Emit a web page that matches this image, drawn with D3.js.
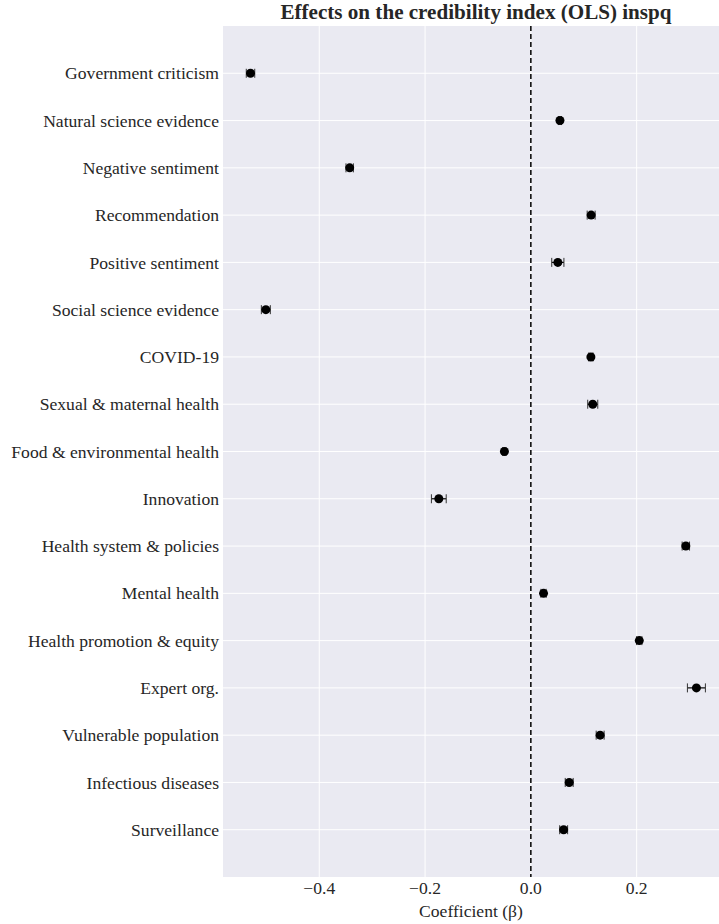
<!DOCTYPE html>
<html>
<head>
<meta charset="utf-8">
<script src="https://cdn.jsdelivr.net/npm/d3@7"></script>
<style>
  html, body { margin: 0; padding: 0; background: #ffffff; }
  svg { display: block; }
  text { font-family: "Liberation Serif", "Times New Roman", serif; fill: #262626; }
</style>
</head>
<body>
<svg id="chart" width="719" height="924"></svg>
<script>
const categories = [
  "Government criticism",
  "Natural science evidence",
  "Negative sentiment",
  "Recommendation",
  "Positive sentiment",
  "Social science evidence",
  "COVID-19",
  "Sexual & maternal health",
  "Food & environmental health",
  "Innovation",
  "Health system & policies",
  "Mental health",
  "Health promotion & equity",
  "Expert org.",
  "Vulnerable population",
  "Infectious diseases",
  "Surveillance"
];
const coefficients = [-0.530, 0.055, -0.3425, 0.114, 0.051, -0.501, 0.1135, 0.117, -0.050, -0.174, 0.293, 0.024, 0.205, 0.313, 0.131, 0.0725, 0.062];
const errors = [0.008, 0.003, 0.007, 0.0075, 0.0115, 0.0085, 0.004, 0.0095, 0.003, 0.014, 0.007, 0.005, 0.005, 0.017, 0.0075, 0.0075, 0.0075];
const xTicks = [-0.4, -0.2, 0.0, 0.2];
const titleText = "Effects on the credibility index (OLS) inspq";
const xLabel = "Coefficient (β)";

const svg = d3.select("#chart");
const margin = {left: 223, right: 0, top: 26, bottom: 47};
const W = 719, H = 924;
const x = d3.scaleLinear().domain([-0.582, 0.3557]).range([margin.left, W - margin.right]);
const y = d3.scaleLinear().domain([-1, categories.length]).range([margin.top, H - margin.bottom]);

// background
svg.append("rect")
  .attr("x", margin.left).attr("y", margin.top)
  .attr("width", W - margin.right - margin.left)
  .attr("height", H - margin.bottom - margin.top)
  .attr("fill", "#EAEAF2");

// grid
const g = svg.append("g");
g.selectAll("line.vgrid").data(xTicks).enter().append("line")
  .attr("class", "vgrid")
  .attr("x1", d => x(d)).attr("x2", d => x(d))
  .attr("y1", margin.top).attr("y2", H - margin.bottom)
  .attr("stroke", "#ffffff").attr("stroke-width", 1);
g.selectAll("line.hgrid").data(categories).enter().append("line")
  .attr("class", "hgrid")
  .attr("x1", margin.left).attr("x2", W - margin.right)
  .attr("y1", (d, i) => y(i)).attr("y2", (d, i) => y(i))
  .attr("stroke", "#ffffff").attr("stroke-width", 1);

// zero line
svg.append("line")
  .attr("x1", x(0)).attr("x2", x(0))
  .attr("y1", margin.top).attr("y2", H - margin.bottom)
  .attr("stroke", "#000").attr("stroke-width", 1.5)
  .attr("stroke-dasharray", "5,3");

// error bars
const eb = svg.append("g");
categories.forEach((c, i) => {
  const v = coefficients[i], e = errors[i], yy = y(i);
  eb.append("line")
    .attr("x1", x(v - e)).attr("x2", x(v + e))
    .attr("y1", yy).attr("y2", yy)
    .attr("stroke", "#000").attr("stroke-width", 1.2);
  [v - e, v + e].forEach(xv => {
    eb.append("line")
      .attr("x1", x(xv)).attr("x2", x(xv))
      .attr("y1", yy - 4.5).attr("y2", yy + 4.5)
      .attr("stroke", "#333").attr("stroke-width", 1);
  });
});

// points
svg.append("g").selectAll("circle").data(coefficients).enter().append("circle")
  .attr("cx", d => x(d)).attr("cy", (d, i) => y(i))
  .attr("r", 4.5).attr("fill", "#000");

// y labels
svg.append("g").selectAll("text").data(categories).enter().append("text")
  .attr("x", margin.left - 4).attr("y", (d, i) => y(i))
  .attr("dy", "0.35em")
  .attr("text-anchor", "end")
  .attr("font-size", "17.6px")
  .text(d => d);

// x tick labels
svg.append("g").selectAll("text").data(xTicks).enter().append("text")
  .attr("x", d => x(d)).attr("y", 894)
  .attr("text-anchor", "middle")
  .attr("font-size", "17.6px")
  .text(d => d3.format(".1f")(d).replace("-", "\u2212"));

// x label
svg.append("text")
  .attr("x", (margin.left + W - margin.right) / 2).attr("y", 917)
  .attr("text-anchor", "middle")
  .attr("font-size", "17.6px")
  .text(xLabel);

// title
svg.append("text")
  .attr("x", (margin.left + W - margin.right) / 2 + 5).attr("y", 19)
  .attr("text-anchor", "middle")
  .attr("font-size", "21.1px")
  .attr("font-weight", "bold")
  .text(titleText);
</script>
</body>
</html>
